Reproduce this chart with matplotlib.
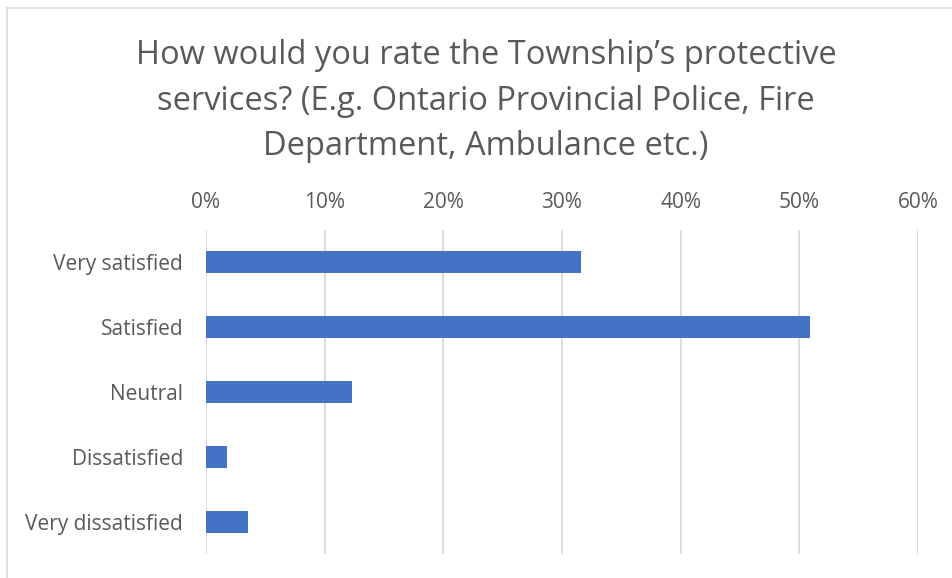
import matplotlib
matplotlib.use("Agg")
import matplotlib.pyplot as plt
from matplotlib.patches import Rectangle
from matplotlib.ticker import FuncFormatter

# survey responses (share of respondents)
categorias = ["Very satisfied", "Satisfied", "Neutral", "Dissatisfied", "Very dissatisfied"]
valores = [0.316, 0.509, 0.123, 0.018, 0.035]
ticks = [0, 0.1, 0.2, 0.3, 0.4, 0.5, 0.6]
titulo = "How would you rate the Township\u2019s protective\nservices? (E.g. Ontario Provincial Police, Fire\nDepartment, Ambulance etc.)"

gris = "#595959"
plt.rcParams["font.family"] = ["Open Sans", "DejaVu Sans"]

fig = plt.figure(figsize=(9.52, 5.78), dpi=100)
W, H = 952, 578

# marco del grafico (sigue fuera del borde derecho e inferior)
fig.patches.append(Rectangle((7 / W, -0.1), 1.2, 1.1 - 8 / H, transform=fig.transFigure,
                             fill=False, edgecolor="#d9d9d9", linewidth=1.2))

ax = fig.add_axes([206 / W, 1 - 554 / H, (918 - 206) / W, (554 - 230) / H])
y = list(range(len(categorias)))
ax.barh(y, valores, height=0.34, color="#4472c4", zorder=3)
ax.set_ylim(len(categorias) - 0.5, -0.5)
ax.set_yticks(y)
ax.set_yticklabels(categorias)
ax.set_xlim(0, 0.6)
ax.set_xticks(ticks)
ax.xaxis.set_major_formatter(FuncFormatter(lambda v, p: f"{v * 100:.0f}%"))
ax.xaxis.tick_top()
ax.grid(axis="x", color="#d9d9d9", linewidth=1.3, zorder=0)
for s in ax.spines.values():
    s.set_visible(False)
ax.tick_params(length=0, labelsize=15, colors=gris)
ax.tick_params(axis="y", pad=16.5)
ax.tick_params(axis="x", pad=12.5)

fig.text(486 / W, 1 - 101 / H, titulo, ha="center", va="center", fontsize=23.5,
         color=gris, linespacing=1.5)

plt.savefig("out.png", dpi=100)
